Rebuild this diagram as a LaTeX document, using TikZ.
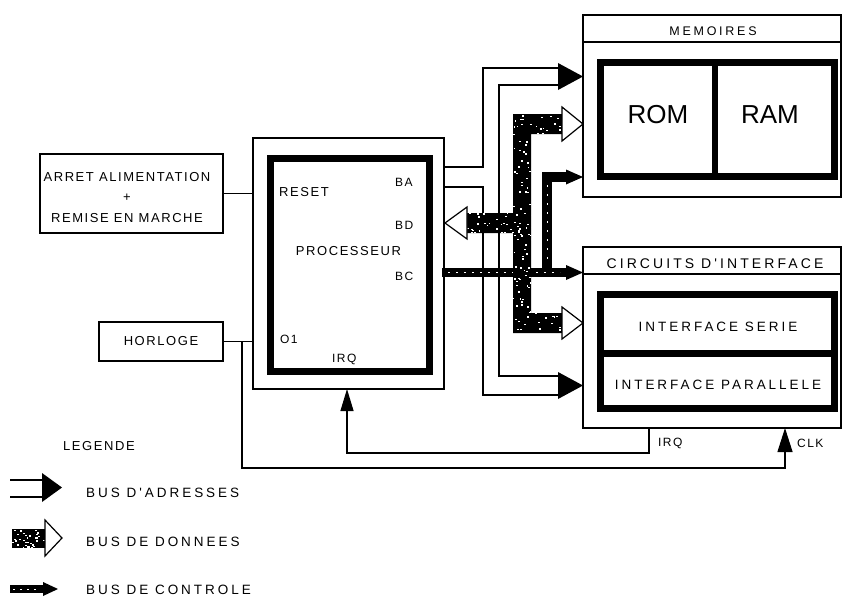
\documentclass[tikz,border=0pt]{standalone}
\usepackage{fontspec}
\setmainfont{Liberation Sans}
\newfontfamily\plotA{Liberation Sans}[LetterSpace=12]
\newfontfamily\plotB{Liberation Sans}[LetterSpace=22]
\usetikzlibrary{arrows.meta,fit}
\begin{document}
\begin{tikzpicture}[x=1pt,y=-1pt,
  box/.style={draw,line width=1.2pt,inner sep=0pt},
  frame/.style={draw,line width=7pt,inner sep=0pt},
  wire/.style={line width=1.2pt},
  lbl/.style={inner sep=0pt,font=\plotA\fontsize{13}{15}\selectfont},
  slbl/.style={inner sep=0pt,font=\plotA\fontsize{12}{14}\selectfont},
  wlbl/.style={inner sep=0pt,font=\plotB\fontsize{13.5}{15}\selectfont},
  big/.style={inner sep=0pt,font=\fontsize{26}{28}\selectfont},
]
\useasboundingbox (0,0) rectangle (842,598);

% ---------- boxes ----------
\node[box, fit={(40,154)(223,233)}] (arret) {};
\node[lbl, align=center, font=\plotA\fontsize{13}{20.5}\selectfont] (arrettxt) at (127,197.5)
  {ARRET ALIMENTATION\\+\\REMISE EN MARCHE};

\node[box, fit={(99,322)(223,361)}] (horloge) {};
\node[lbl] (horlogetxt) at (161,341.5) {HORLOGE};

\node[box, fit={(253,138)(444,389)}] (proc) {};
\node[frame, fit={(270.5,158.5)(429.5,371.5)}] (cpu) {};
\node[lbl, anchor=west] (reset) at (279,192) {RESET};
\node[slbl, anchor=west] (ba) at (395,182) {BA};
\node[slbl, anchor=west] (bd) at (395,225) {BD};
\node[lbl] (proctxt) at (348.5,251) {PROCESSEUR};
\node[slbl, anchor=west] (bc) at (395,276) {BC};
\node[slbl, anchor=west] (o1) at (280,339) {O1};
\node[slbl, anchor=west] (irqp) at (332,359) {IRQ};

\node[box, fit={(583,15)(841,197)}] (mem) {};
\coordinate (memh) at (583,42);
\draw[wire] (memh) -- (memh -| mem.east);
\node[wlbl, font=\plotB\fontsize{12.5}{14}\selectfont] (memtxt) at (713,31) {MEMOIRES};
\node[frame, fit={(600.5,62.5)(834.5,176.5)}] (memin) {};
\draw[line width=6pt] (715,59) -- (715,180);
\node[big] (rom) at (658,115) {ROM};
\node[big] (ram) at (770,115) {RAM};

\node[box, fit={(583,247)(841,428)}] (circ) {};
\coordinate (circh) at (583,274);
\draw[wire] (circh) -- (circh -| circ.east);
\node[wlbl, font=\plotB\fontsize{14}{16}\selectfont] (circtxt) at (715,264) {CIRCUITS D'INTERFACE};
\node[frame, fit={(600.5,294.5)(834.5,408.5)}] (circin) {};
\draw[line width=7pt] (597,353) -- (838,353);
\node[wlbl] (serie) at (718,327) {INTERFACE SERIE};
\node[wlbl] (para) at (718,385) {INTERFACE PARALLELE};

% ---------- simple connectors ----------
\draw[wire] (arret.east) -- (arret.east -| proc.west);
\draw[wire] (horloge.east) -- (horloge.east -| proc.west);
\coordinate (j) at (242,341.5);
\coordinate (clk) at (785,428);
\draw[wire, -{Triangle[length=24pt,width=15pt]}] (j) -- (242,468) -- (785,468) -- (clk);
\node[slbl, anchor=west] (clktxt) at (797,443) {CLK};
\coordinate (irqo) at (649,428);
\coordinate (irqi) at (347,389);
\draw[wire, -{Triangle[length=22pt,width=13pt]}] (irqo) -- (649,453) -- (347,453) -- (irqi);
\node[slbl, anchor=west] (irqc) at (658,443) {IRQ};

% ---------- address bus (hollow, two walls) ----------
\coordinate (ba1) at (444,167);
\coordinate (ba2) at (444,187);
\draw[wire] (ba1) -- (483,167) -- (483,68) -- (558,68);
\draw[wire] (ba2) -- (483,187) -- (483,395) -- (558,395);
\draw[wire] (558,85) -- (499,85) -- (499,376) -- (558,376);
\fill (558,63) -- (583,76.5) -- (558,90) -- cycle;
\fill (558,372) -- (583,385.5) -- (558,399) -- cycle;

% ---------- control bus ----------
\fill (442,268) rectangle (567,277);
\fill (542,172) rectangle (552,277);
\fill (542,172) rectangle (567,182);
\fill (566,265) -- (583,272.5) -- (566,280) -- cycle;
\fill (566,169.5) -- (583,177) -- (566,184.5) -- cycle;
\draw[white, line width=0.8pt, dash pattern=on 2pt off 6pt] (448,272.5) -- (560,272.5);
\draw[white, line width=0.8pt, dash pattern=on 2pt off 7pt] (547,185) -- (547,265);

% ---------- data bus ----------
\fill (513,114) -- (562,114) -- (562,134) -- (531,134) -- (531,313) -- (562,313)
  -- (562,333) -- (513,333) -- (513,233) -- (467,233) -- (467,213) -- (513,213) -- cycle;
\begin{scope}
  \clip (513,114) -- (562,114) -- (562,134) -- (531,134) -- (531,313) -- (562,313)
    -- (562,333) -- (513,333) -- (513,233) -- (467,233) -- (467,213) -- (513,213) -- cycle;
  \pgfmathsetseed{3}
  \foreach \i in {1,...,450}{
    \pgfmathsetmacro{\xx}{467+95*rnd}
    \pgfmathsetmacro{\yy}{114+219*rnd}
    \fill[white] (\xx,\yy) rectangle ++(1.8,1.4);
  }
\end{scope}
\draw[wire, fill=white] (562,107) -- (583,124) -- (562,141) -- cycle;
\draw[wire, fill=white] (467,207) -- (445,223) -- (467,239) -- cycle;
\draw[wire, fill=white] (562,307) -- (583,323) -- (562,339) -- cycle;

% ---------- legend ----------
\node[lbl, anchor=west] (legende) at (63,446) {LEGENDE};
\coordinate (la1) at (10,480);
\coordinate (la2) at (10,497);
\draw[wire] (la1) -- (43,480);
\draw[wire] (la2) -- (43,497);
\fill (42,473) -- (62,487.5) -- (42,502) -- cycle;
\node[wlbl, anchor=west] (lega) at (86,492.5) {BUS D'ADRESSES};

\fill (12,529) rectangle (46,548);
\begin{scope}
  \clip (12,529) rectangle (46,548);
  \pgfmathsetseed{5}
  \foreach \i in {1,...,35}{
    \pgfmathsetmacro{\xx}{12+34*rnd}
    \pgfmathsetmacro{\yy}{529+19*rnd}
    \fill[white] (\xx,\yy) rectangle ++(1.8,1.4);
  }
\end{scope}
\draw[wire, fill=white] (45,520) -- (62,538) -- (45,556) -- cycle;
\node[wlbl, anchor=west] (legd) at (86,542) {BUS DE DONNEES};

\fill (10,585) rectangle (44,593);
\fill (43,582) -- (58,589) -- (43,596) -- cycle;
\draw[white, line width=0.8pt, dash pattern=on 2pt off 5pt] (13,589) -- (40,589);
\node[wlbl, anchor=west] (legc) at (86,590) {BUS DE CONTROLE};
\end{tikzpicture}
\end{document}
